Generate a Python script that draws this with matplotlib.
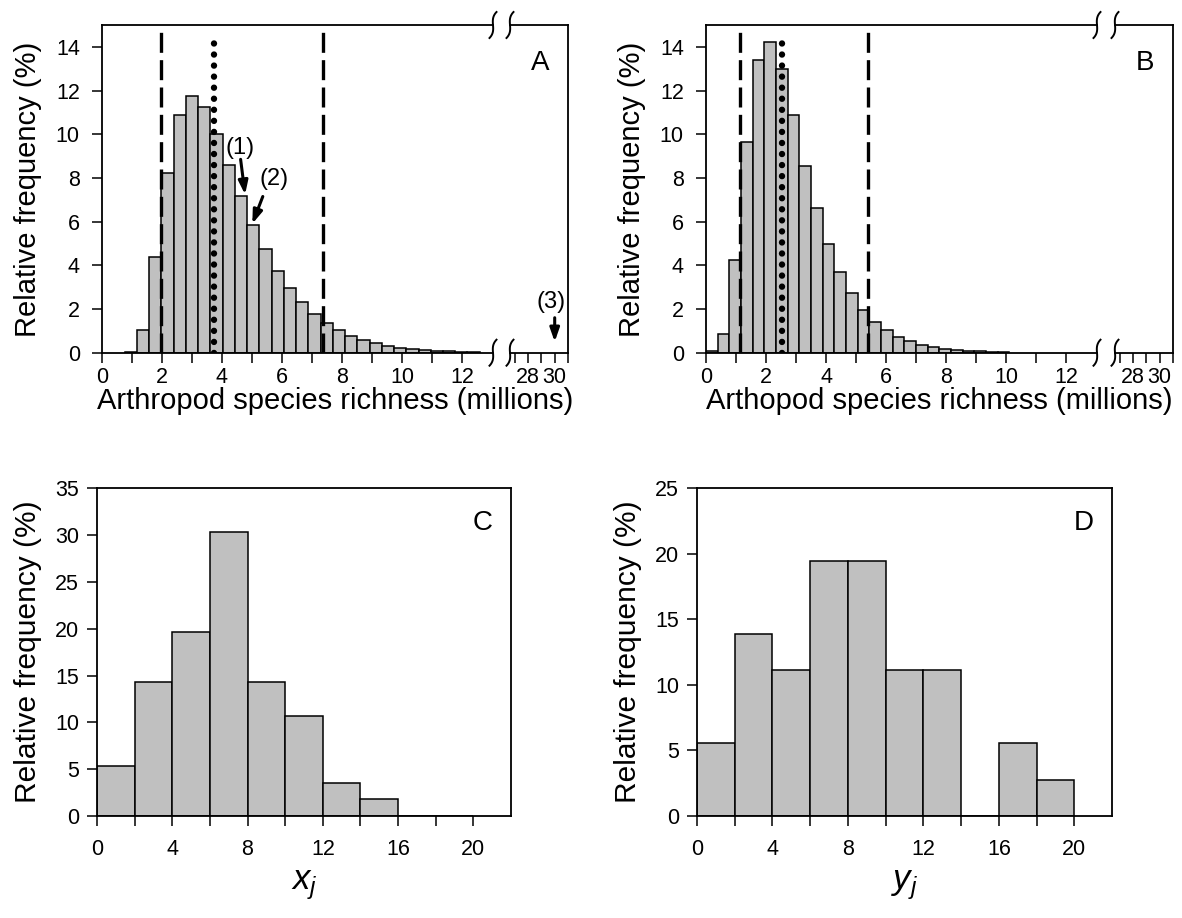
import numpy as np
import matplotlib
matplotlib.use("Agg")
import matplotlib.pyplot as plt
from matplotlib.lines import Line2D

plt.rcParams['font.family'] = ['Liberation Sans', 'DejaVu Sans']
plt.rcParams['mathtext.fontset'] = 'custom'
plt.rcParams['mathtext.it'] = 'Liberation Sans:italic'
plt.rcParams['mathtext.rm'] = 'Liberation Sans'

# ---------------- data ----------------
# Panel A: arthropod richness (millions), histogram
a_bin_start = 0.759
a_bin_width = 0.408
a_freq = [0.05, 1.06, 4.36, 8.24, 10.86, 11.73, 11.24, 10.0, 8.6, 7.17, 5.84,
          4.74, 3.72, 2.95, 2.34, 1.79, 1.36, 1.06, 0.77, 0.6, 0.45, 0.32,
          0.23, 0.17, 0.13, 0.09, 0.06, 0.04, 0.03]
a_ci_low, a_median, a_ci_high = 1.97, 3.72, 7.38
a_median_top = 14.6
a_arrows = {"(1)": (4.77, 7.24, 4.62, 8.85, 4.6, 9.35),
            "(2)": (5.01, 5.9, 5.36, 7.15, 5.72, 7.95)}
a_arrow3 = (30.0, 0.5, 30.0, 1.6, 29.7, 2.3)

# Panel B
b_bin_start = 0.0
b_bin_width = 0.389
b_freq = [0.08, 0.87, 4.24, 9.65, 13.41, 14.22, 12.97, 10.87, 8.56, 6.62, 4.99,
          3.69, 2.74, 1.97, 1.42, 1.04, 0.73, 0.52, 0.37, 0.27, 0.18, 0.13,
          0.09, 0.06, 0.04, 0.03]
b_ci_low, b_median, b_ci_high = 1.13, 2.54, 5.39
b_median_top = 14.6

# Panel C (x_j) and D (y_j), bins of width 2 from 0
c_freq = [5.36, 14.29, 19.64, 30.36, 14.29, 10.71, 3.57, 1.79, 0, 0]
d_freq = [5.56, 13.89, 11.11, 19.44, 19.44, 11.11, 11.11, 0, 5.56, 2.78]
cd_bin_width = 2

# ---------------- layout ----------------
W, H = 1182, 918
fig = plt.figure(figsize=(W / 100, H / 100), dpi=100)


def box(l, r, t, b):
    return [l / W, 1 - b / H, (r - l) / W, (b - t) / H]


def ftext(xp, yp, s, **kw):
    return fig.text(xp / W, 1 - yp / H, s, ha='center', va='center', **kw)


BAR_C = '#c0c0c0'
TICK_FS = 15.5
LAB_FS = 21
TL = 7


def style(ax, ypad=5, xpad=3.5):
    ax.tick_params(direction='out', length=TL, width=1.1, labelsize=TICK_FS)
    ax.tick_params(axis='x', pad=xpad)
    ax.tick_params(axis='y', pad=ypad)
    ax.tick_params(which='minor', direction='out', length=TL, width=1.1)
    for s in ax.spines.values():
        s.set_linewidth(1.3)


def break_mark(xp, yp):
    t = np.linspace(-1, 1, 40)
    xs = xp + 4.5 * t ** 3 - 1.0 * t
    ys = yp - 13 * t
    fig.add_artist(Line2D(xs / W, 1 - ys / H, color='black', lw=1.4,
                          transform=fig.transFigure))


def hist_panel(l1, r1, l2, r2, start, width, freq, lo, med, hi, medtop, letter, xlabel):
    ax1 = fig.add_axes(box(l1, r1, 25, 352.7))
    ax2 = fig.add_axes(box(l2, r2, 25, 352.7))
    edges = start + width * np.arange(len(freq))
    ax1.bar(edges, freq, width=width, align='edge', color=BAR_C,
            edgecolor='black', linewidth=1.1, zorder=2)
    ax1.set_xlim(0, (r1 - l1) / 30.0)
    ax1.set_ylim(0, 15)
    ax1.set_xticks(range(0, 13, 2))
    ax1.set_xticks(range(1, 13, 2), minor=True)
    ax1.set_yticks(range(0, 15, 2))
    ax1.spines['right'].set_visible(False)
    style(ax1, ypad=9)
    ax1.vlines([lo, hi], 0, 15, colors='black', lw=2.4,
               linestyles=[(0, (6.0, 2.2))], zorder=3)
    ax1.plot([med, med], [0, medtop], color='black', lw=4.6,
             linestyle=(0, (0.01, 1.72)), dash_capstyle='round', zorder=4)
    ftext(l1 - 74, 189, 'Relative frequency (%)', fontsize=LAB_FS, rotation=90)

    ax2.set_xlim(31 - (r2 - l2) / 13.3, 31)
    ax2.set_ylim(0, 15)
    ax2.set_xticks([28, 30])
    ax2.set_xticks([27, 29, 31], minor=True)
    ax2.set_yticks([])
    ax2.spines['left'].set_visible(False)
    style(ax2)
    ax2.text(0.52, 0.885, letter, transform=ax2.transAxes, fontsize=20,
             ha='center', va='center')
    for xp in (r1, l2):
        break_mark(xp, 25)
        break_mark(xp, 352.7)
    ftext((l1 + r2) / 2, 401, xlabel, fontsize=LAB_FS)
    return ax1, ax2


axA1, axA2 = hist_panel(102, 493, 510, 568, a_bin_start, a_bin_width, a_freq,
                        a_ci_low, a_median, a_ci_high, a_median_top, 'A',
                        'Arthropod species richness (millions)')
arrow_kw = dict(arrowstyle='-|>,head_length=0.8,head_width=0.28', color='black',
                lw=2.2, shrinkA=0, shrinkB=0)
for lab, (tx, ty, sx, sy, lx, ly) in a_arrows.items():
    axA1.annotate('', xy=(tx, ty), xytext=(sx, sy), arrowprops=arrow_kw, zorder=5)
    axA1.text(lx, ly, lab, fontsize=17, ha='center', va='center', zorder=5)
tx, ty, sx, sy, lx, ly = a_arrow3
axA2.annotate('', xy=(tx, ty), xytext=(sx, sy), arrowprops=arrow_kw,
              annotation_clip=False)
axA2.text(lx, ly, '(3)', fontsize=17, ha='center', va='center', clip_on=False)

axB1, axB2 = hist_panel(706, 1097, 1115, 1173, b_bin_start, b_bin_width, b_freq,
                        b_ci_low, b_median, b_ci_high, b_median_top, 'B',
                        'Arthopod species richness (millions)')


def small_panel(l, r, freq, ymax, ystep, letter, xlabel):
    ax = fig.add_axes(box(l, r, 488.3, 816))
    edges = cd_bin_width * np.arange(len(freq))
    ax.bar(edges, freq, width=cd_bin_width, align='edge', color=BAR_C,
           edgecolor='black', linewidth=1.1)
    ax.set_xlim(0, 22)
    ax.set_ylim(0, ymax)
    ax.set_xticks(range(0, 21, 4))
    ax.set_xticks(range(2, 19, 4), minor=True)
    ax.set_yticks(range(0, ymax + 1, ystep))
    style(ax, ypad=6, xpad=9.5)
    ftext(l - 69, 652, 'Relative frequency (%)', fontsize=LAB_FS + 0.5, rotation=90)
    ftext((l + r) / 2, 885, xlabel, fontsize=LAB_FS + 4)
    ax.text(0.932, 0.893, letter, transform=ax.transAxes, fontsize=20,
            ha='center', va='center')
    return ax


axC = small_panel(97, 511, c_freq, 35, 5, 'C', r'$x_j$')
axD = small_panel(697, 1112, d_freq, 25, 5, 'D', r'$y_j$')

fig.savefig('out.png', dpi=100)
